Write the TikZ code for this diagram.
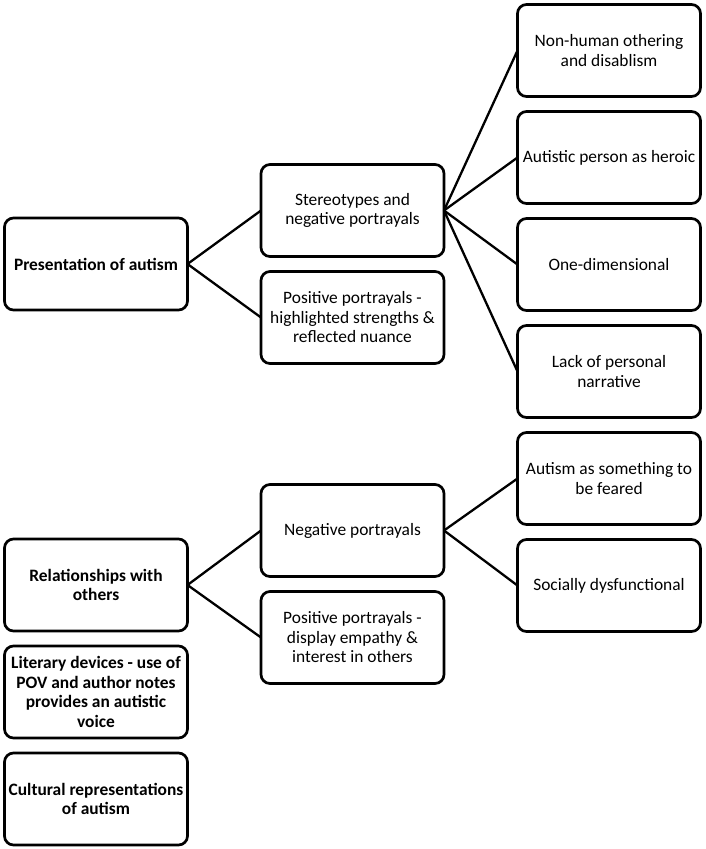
\documentclass[tikz,border=0pt]{standalone}
\usepackage{fontspec}
\setmainfont{Carlito}
\usetikzlibrary{positioning}
\begin{document}
\begin{tikzpicture}[x=1pt,y=1pt,node distance=15pt,
  box/.style={draw,fill=white,rounded corners=9pt,line width=2.7pt,outer sep=0pt,minimum width=183pt,minimum height=92pt,align=center,inner sep=2pt,font=\fontsize{17.4}{19.5}\selectfont},
  head/.style={box,font=\fontsize{17.4}{19.5}\selectfont\bfseries},
  link/.style={line width=2.3pt}]
  \useasboundingbox (0,0) rectangle (705,-849);
  \node (nonhuman) [box] at (609,-50.5) {Non-human othering\\and disablism};
  \node (heroic) [box, below=of nonhuman] {Autistic person as heroic};
  \node (onedim) [box, below=of heroic] {One-dimensional};
  \node (lack) [box, below=of onedim] {Lack of personal\\narrative};
  \node (feared) [box, below=of lack] {Autism as something to\\be feared};
  \node (social) [box, below=of feared] {Socially dysfunctional};
  \node (stereo) [box] at (352.5,-210.5) {Stereotypes and\\negative portrayals};
  \node (posstrength) [box, below=of stereo] {Positive portrayals -\\highlighted strengths \&\\reflected nuance};
  \node (negport) [box] at (352.5,-530.5) {Negative portrayals};
  \node (posempathy) [box, below=of negport] {Positive portrayals -\\display empathy \&\\interest in others};
  \node (present) [head] at (96,-264) {Presentation of autism};
  \node (relation) [head] at (96,-585) {Relationships with\\others};
  \node (literary) [head, below=of relation] {Literary devices - use of\\POV and author notes\\provides an autistic\\voice};
  \node (cultural) [head, below=of literary] {Cultural representations\\of autism};
  \draw[link] (present.east) -- (stereo.west);
  \draw[link] (present.east) -- (posstrength.west);
  \draw[link] (stereo.east) -- (nonhuman.west);
  \draw[link] (stereo.east) -- (heroic.west);
  \draw[link] (stereo.east) -- (onedim.west);
  \draw[link] (stereo.east) -- (lack.west);
  \draw[link] (relation.east) -- (negport.west);
  \draw[link] (relation.east) -- (posempathy.west);
  \draw[link] (negport.east) -- (feared.west);
  \draw[link] (negport.east) -- (social.west);
\end{tikzpicture}
\end{document}
